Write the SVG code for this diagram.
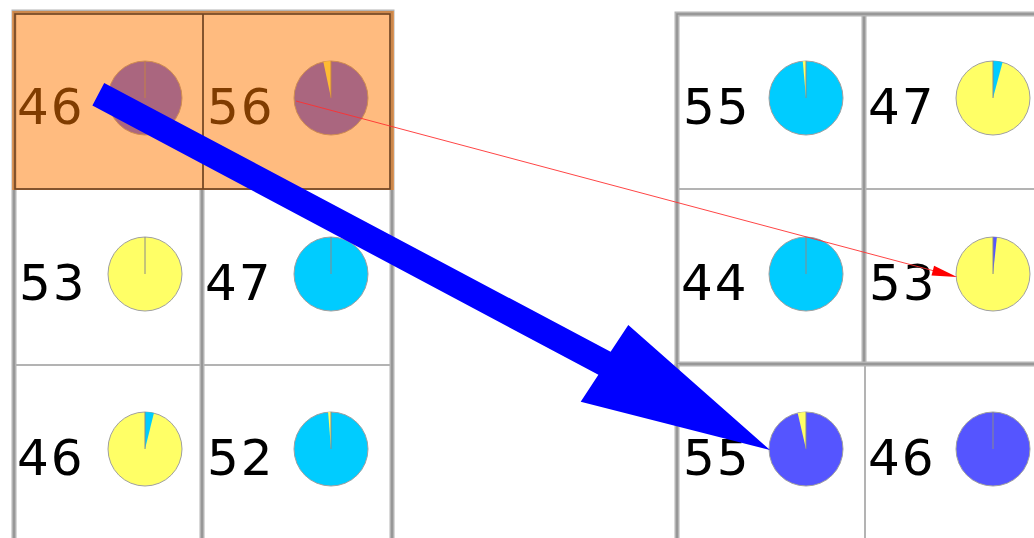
<svg xmlns="http://www.w3.org/2000/svg" width="1034" height="538" viewBox="0 0 1034 538">
  <style>
    .cell { fill: #ffffff; }
    .frame { fill: none; stroke: #b4b4b4; stroke-width: 5; }
    .frame-core { fill: none; stroke: #8e8e8e; stroke-width: 1.5; }
    .thin { fill: none; stroke: #9a9a9a; stroke-width: 1.5; }
    .num { font-family: "DejaVu Sans", "Liberation Sans", sans-serif; font-size: 50px; letter-spacing: 2px; fill: #000000; }
    .pie { stroke: #a0a0a0; stroke-width: 1; }
    .cyan { fill: #00ccff; }
    .yellow { fill: #ffff66; }
    .blue { fill: #5555ff; }
    .spoke { stroke: #8a8a8a; stroke-width: 1; }
    .hl { fill: #ff7700; fill-opacity: 0.5; }
    .hl-edge { fill: none; stroke: #6e4424; stroke-width: 1.6; }
  </style>

  <rect x="0" y="0" width="1034" height="538" fill="#ffffff"/>

  <!-- left grid: 2 columns x 3 rows -->
  <g id="grid-left">
    <rect class="cell" x="14" y="12" width="378" height="540"/>
    <line class="thin" x1="14" y1="189" x2="392" y2="189"/>
    <line class="thin" x1="14" y1="365" x2="392" y2="365"/>
    <line class="frame" x1="202" y1="189" x2="202" y2="545"/>
    <line class="frame-core" x1="202" y1="189" x2="202" y2="545"/>
    <line class="thin" x1="203" y1="12" x2="203" y2="189"/>
    <rect class="frame" x="14" y="12" width="378" height="540"/>
    <rect class="frame-core" x="14" y="12" width="378" height="540"/>
  </g>

  <!-- right grid: 2x2 block plus a lower row -->
  <g id="grid-right">
    <rect class="cell" x="677" y="14" width="400" height="540"/>
    <line class="thin" x1="677" y1="189" x2="1040" y2="189"/>
    <line class="thin" x1="865" y1="364" x2="865" y2="545"/>
    <line class="frame" x1="864" y1="14" x2="864" y2="364"/>
    <line class="frame-core" x1="864" y1="14" x2="864" y2="364"/>
    <rect class="frame" x="677" y="14" width="400" height="350"/>
    <rect class="frame-core" x="677" y="14" width="400" height="350"/>
    <line class="frame" x1="677" y1="364" x2="677" y2="545"/>
    <line class="frame-core" x1="677" y1="364" x2="677" y2="545"/>
  </g>

  <!-- left grid cells -->
  <g id="cell-l1a">
    <text class="num" x="17" y="124">46</text>
    <g transform="translate(145,98)">
      <circle class="pie blue" r="37"/>
      <line class="spoke" x1="0" y1="0" x2="0" y2="-37"/>
    </g>
  </g>
  <g id="cell-l1b">
    <text class="num" x="207" y="124">56</text>
    <g transform="translate(331,98)">
      <circle class="pie blue" r="37"/>
      <path class="yellow" d="M0,0 L-7.69,-36.19 A37,37 0 0,1 0,-37 Z"/>
      <line class="spoke" x1="0" y1="0" x2="0" y2="-37"/>
    </g>
  </g>
  <g id="cell-l2a">
    <text class="num" x="19" y="300">53</text>
    <g transform="translate(145,274)">
      <circle class="pie yellow" r="37"/>
      <line class="spoke" x1="0" y1="0" x2="0" y2="-37"/>
    </g>
  </g>
  <g id="cell-l2b">
    <text class="num" x="205" y="300">47</text>
    <g transform="translate(331,274)">
      <circle class="pie cyan" r="37"/>
      <line class="spoke" x1="0" y1="0" x2="0" y2="-37"/>
    </g>
  </g>
  <g id="cell-l3a">
    <text class="num" x="17" y="475">46</text>
    <g transform="translate(145,449)">
      <circle class="pie yellow" r="37"/>
      <path class="cyan" d="M0,0 L0,-37 A37,37 0 0,1 8.95,-35.9 Z"/>
      <line class="spoke" x1="0" y1="0" x2="0" y2="-37"/>
    </g>
  </g>
  <g id="cell-l3b">
    <text class="num" x="207" y="475">52</text>
    <g transform="translate(331,449)">
      <circle class="pie cyan" r="37"/>
      <path class="yellow" d="M0,0 L-2.9,-36.89 A37,37 0 0,1 0,-37 Z"/>
      <line class="spoke" x1="0" y1="0" x2="0" y2="-37"/>
    </g>
  </g>

  <!-- right grid cells -->
  <g id="cell-r1a">
    <text class="num" x="683" y="124">55</text>
    <g transform="translate(806,98)">
      <circle class="pie cyan" r="37"/>
      <path class="yellow" d="M0,0 L-3.22,-36.86 A37,37 0 0,1 0,-37 Z"/>
      <line class="spoke" x1="0" y1="0" x2="0" y2="-37"/>
    </g>
  </g>
  <g id="cell-r1b">
    <text class="num" x="868" y="124">47</text>
    <g transform="translate(993,98)">
      <circle class="pie yellow" r="37"/>
      <path class="cyan" d="M0,0 L0,-37 A37,37 0 0,1 9.58,-35.74 Z"/>
      <line class="spoke" x1="0" y1="0" x2="0" y2="-37"/>
    </g>
  </g>
  <g id="cell-r2a">
    <text class="num" x="681" y="300">44</text>
    <g transform="translate(806,274)">
      <circle class="pie cyan" r="37"/>
      <line class="spoke" x1="0" y1="0" x2="0" y2="-37"/>
    </g>
  </g>
  <g id="cell-r2b">
    <text class="num" x="869" y="300">53</text>
    <g transform="translate(993,274)">
      <circle class="pie yellow" r="37"/>
      <path class="blue" d="M0,0 L0,-37 A37,37 0 0,1 3.87,-36.8 Z"/>
      <line class="spoke" x1="0" y1="0" x2="0" y2="-37"/>
    </g>
  </g>
  <g id="cell-r3a">
    <text class="num" x="683" y="475">55</text>
    <g transform="translate(806,449)">
      <circle class="pie blue" r="37"/>
      <path class="yellow" d="M0,0 L-8.32,-36.05 A37,37 0 0,1 0,-37 Z"/>
      <line class="spoke" x1="0" y1="0" x2="0" y2="-37"/>
    </g>
  </g>
  <g id="cell-r3b">
    <text class="num" x="868" y="475">46</text>
    <g transform="translate(993,449)">
      <circle class="pie blue" r="37"/>
      <line class="spoke" x1="0" y1="0" x2="0" y2="-37"/>
    </g>
  </g>

  <!-- highlighted source row -->
  <g id="highlight">
    <rect class="hl" x="12" y="11" width="382" height="179"/>
    <rect class="hl-edge" x="15" y="14" width="375" height="175"/>
    <line class="hl-edge" x1="203" y1="14" x2="203" y2="189"/>
  </g>

  <!-- connectors -->
  <g id="connectors">
    <line x1="296" y1="101" x2="933" y2="270.6" stroke="#ff3030" stroke-width="0.9"/>
    <polygon points="957,277 934.1,265.8 931.5,275.4" fill="#ff0000"/>
    <polygon points="104.2,83 610.6,351.8 628.3,325 770,450 580.7,401.7 598.4,374.8 92.4,105.4" fill="#0000ff"/>
  </g>
</svg>
